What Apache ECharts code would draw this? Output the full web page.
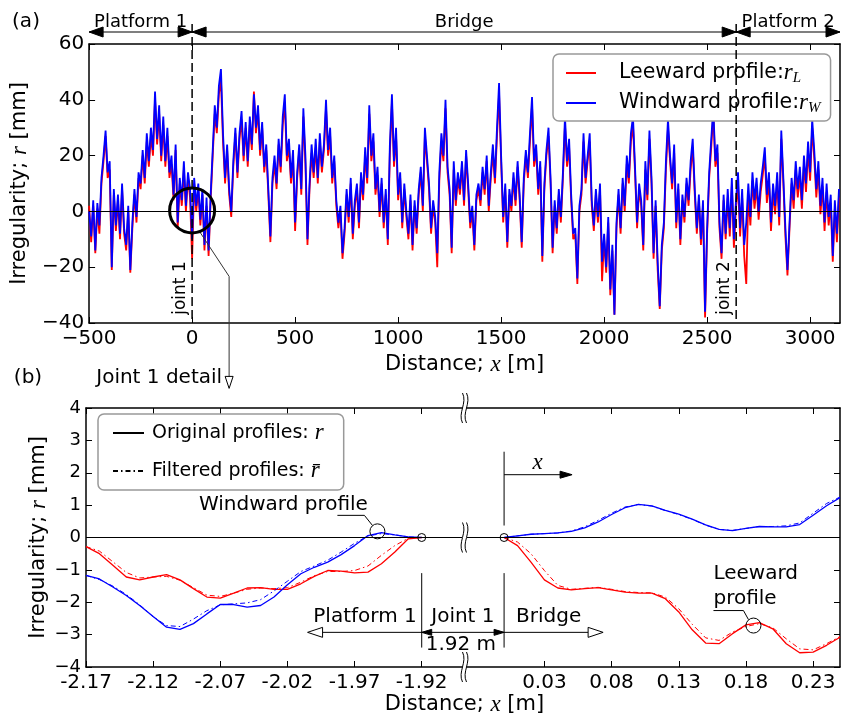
<!DOCTYPE html>
<html>
<head>
<meta charset="utf-8">
<script src="https://cdn.jsdelivr.net/npm/echarts@6/dist/echarts.min.js"></script>
<style>
html,body{margin:0;padding:0;background:#fff}
#main{width:844px;height:722px}
</style>
</head>
<body>
<div id="main"></div>
<script>
var FONT = 'DejaVu Sans';
var MATH = 'Liberation Serif';

// (a) whole line, one value every 10 m from -500 m
var profileStart = -500, profileStep = 10;
var leeward = [
 2,-11,2,-15,1,-8,10,18,27,12,
 15,-21,6,-7,4,-10,8,-8,-14,0,
 -22,-6,6,-4,12,8,20,10,25,16,
 27,20,40,24,35,18,31,16,27,12,
 17,4,22,-6,10,2,15,0,12,5,
 -17,10,0,8,-5,6,-14,2,-16,4,
 20,35,28,42,47,25,10,22,6,-2,
 16,28,12,26,33,18,30,16,31,22,
 43,28,36,20,30,14,22,6,-11,10,
 17,8,24,14,31,39,18,23,10,19,
 -7,12,22,6,34,17,-12,8,21,12,
 23,10,25,14,22,37,20,27,10,18,
 2,-6,0,-17,-8,6,-4,10,-10,2,
 8,-6,12,4,20,10,35,18,25,6,
 13,-2,10,-6,6,-12,21,39,16,27,
 4,12,-6,8,-2,-10,4,-14,2,-8,
 6,14,0,27,18,8,-8,2,-4,-20,
 11,25,18,37,14,6,-15,15,2,12,
 6,16,2,20,8,-6,0,-14,4,8,
 2,14,6,18,0,12,21,10,27,42,
 18,-4,8,-13,6,0,12,2,16,4,
 -13,10,20,12,25,38,16,22,6,16,
 -18,8,20,27,10,-15,2,-8,6,-4,
 12,31,16,23,4,-10,-8,-26,0,6,
 25,10,18,25,2,-7,6,-4,8,-25,
 -10,-22,-4,-30,-14,-37,-6,6,-8,10,
 0,17,10,25,31,14,-6,8,2,-14,
 15,4,26,10,-17,2,-21,-35,-14,-6,
 15,30,18,8,21,-6,8,-12,4,-4,
 10,2,15,23,6,-8,4,-12,2,-38,
 -8,12,23,35,16,21,-6,-17,4,-10,
 5,-9,9,-13,1,10,-9,5,-16,-26,
 6,-5,11,1,9,-3,7,13,20,3,
 11,-7,7,-1,11,-5,26,10,-9,-23,
 -6,10,1,15,5,13,1,17,7,22,
 11,30,19,5,15,-1,9,-7,7,-5,
 3,-18,1,-11,5
];
var windward = [
 0,-9,4,-14,3,-5,12,20,29,14,
 18,-20,8,-5,6,-8,10,-6,-12,2,
 -21,-4,8,-2,14,10,22,12,28,18,
 30,22,43,26,38,20,34,18,30,14,
 20,6,24,-4,12,4,18,2,14,8,
 -10,12,2,10,-3,8,-12,5,-14,6,
 22,38,30,45,51,28,12,24,8,0,
 18,30,14,28,36,20,32,18,34,24,
 42,30,38,22,32,16,24,8,-9,12,
 20,10,26,16,34,42,20,26,12,22,
 -4,14,24,8,37,20,-10,10,24,14,
 26,12,28,16,24,40,22,30,12,20,
 4,-4,2,-15,-6,8,-2,12,-8,4,
 10,-4,14,6,23,12,38,20,28,8,
 16,0,12,-4,8,-10,24,42,18,30,
 6,14,-4,10,0,-8,6,-12,4,-6,
 8,16,2,30,20,10,-6,4,-2,-15,
 14,28,20,40,16,8,-13,18,4,14,
 8,18,4,22,10,-4,2,-12,6,10,
 4,16,8,20,2,14,24,12,30,46,
 20,-2,10,-11,8,2,14,4,18,6,
 -11,12,22,14,28,41,18,24,8,18,
 -16,10,22,30,12,-13,4,-6,8,-2,
 14,34,18,26,6,-8,-6,-24,2,8,
 28,12,20,28,4,-5,8,-2,10,-18,
 -8,-20,-2,-28,-12,-37,-4,8,-6,12,
 2,20,12,28,34,16,-4,10,4,-12,
 18,6,29,12,-15,4,-18,-34,-12,-4,
 18,33,20,10,24,-4,10,-10,6,-2,
 12,4,18,26,8,-6,6,-10,4,-36,
 -6,14,26,37,18,24,-4,-15,6,-8,
 8,-6,12,-10,4,14,-6,8,-12,-4,
 10,-2,14,4,12,0,10,16,23,6,
 14,-4,10,2,14,-2,29,12,-6,-21,
 -4,12,4,18,8,16,4,20,10,25,
 14,33,22,8,18,2,12,-4,10,-2,
 6,-16,4,-8,8
];
var joint1 = 0, joint2 = 2641, profileEnd = 3145;
var distTicks = [-500, 0, 500, 1000, 1500, 2000, 2500, 3000];

// (b) joint 1 detail
var detailXLeft = [-2.17,-2.16,-2.15,-2.14,-2.13,-2.12,-2.11,-2.10,-2.09,-2.08,-2.07,-2.06,-2.05,
  -2.04,-2.03,-2.02,-2.01,-2.00,-1.99,-1.98,-1.97,-1.96,-1.95,-1.94,-1.93,-1.92];
var leewardLeft = [-0.28,-0.50,-0.86,-1.22,-1.31,-1.22,-1.15,-1.31,-1.58,-1.84,-1.87,-1.72,-1.56,
  -1.55,-1.60,-1.60,-1.43,-1.20,-1.02,-1.04,-1.09,-1.07,-0.81,-0.45,-0.04,0];
var leewardLeftFilt = [-0.28,-0.42,-0.75,-1.08,-1.25,-1.22,-1.20,-1.32,-1.55,-1.78,-1.82,-1.72,-1.60,
  -1.56,-1.58,-1.55,-1.38,-1.18,-1.05,-1.05,-1.02,-0.88,-0.55,-0.25,-0.02,0];
var windwardLeft = [-1.17,-1.28,-1.53,-1.79,-2.10,-2.44,-2.77,-2.84,-2.66,-2.36,-2.07,-2.07,-2.15,
  -2.10,-1.84,-1.46,-1.12,-0.92,-0.76,-0.53,-0.25,0.06,0.15,0.08,0.02,0];
var windwardLeftFilt = [-1.17,-1.30,-1.50,-1.76,-2.08,-2.45,-2.72,-2.75,-2.52,-2.26,-2.08,-2.05,-2.02,
  -1.92,-1.65,-1.35,-1.05,-0.88,-0.70,-0.45,-0.18,0.05,0.12,0.08,0.02,0];

var detailXRight = [0,0.01,0.02,0.03,0.04,0.05,0.06,0.07,0.08,0.09,0.10,0.11,0.12,
  0.13,0.14,0.15,0.16,0.17,0.18,0.19,0.20,0.21,0.22,0.23,0.24,0.25];
var leewardRight = [0,-0.25,-0.76,-1.31,-1.56,-1.62,-1.58,-1.55,-1.62,-1.69,-1.72,-1.72,-1.89,
  -2.30,-2.85,-3.26,-3.28,-2.97,-2.70,-2.63,-2.82,-3.28,-3.56,-3.54,-3.33,-3.08];
var leewardRightFilt = [0,-0.14,-0.50,-1.02,-1.48,-1.60,-1.57,-1.54,-1.60,-1.67,-1.70,-1.71,-1.84,
  -2.20,-2.68,-3.10,-3.18,-2.92,-2.75,-2.66,-2.79,-3.13,-3.44,-3.47,-3.28,-3.06];
var windwardRight = [0,0.05,0.10,0.12,0.14,0.19,0.30,0.48,0.71,0.92,1.02,0.98,0.84,
  0.72,0.57,0.39,0.25,0.21,0.28,0.34,0.33,0.33,0.40,0.69,0.98,1.23];
var windwardRightFilt = [0,0.05,0.10,0.12,0.14,0.20,0.33,0.53,0.75,0.94,1.02,0.97,0.83,
  0.71,0.56,0.38,0.25,0.22,0.28,0.34,0.34,0.36,0.45,0.75,1.05,1.25];
var detailTicksLeft = [-2.17,-2.12,-2.07,-2.02,-1.97,-1.92];
var detailTicksRight = [0.03,0.08,0.13,0.18,0.23];

function profilePairs(vals) {
  return vals.map(function (v, i) { return [profileStart + i * profileStep, v]; });
}
function pairs(xs, ys) {
  return ys.map(function (v, i) { return [xs[i], v]; });
}
function minus(v) { return String(v).replace('-', '\u2212'); }

var axisLine = {show: true, onZero: false, lineStyle: {color: '#000', width: 1.5}};
var tickStyle = {color: '#000', width: 1};
var mathRich = {i: {fontFamily: MATH, fontStyle: 'italic', fontSize: 23}};
var dashDot = [5, 3, 1.5, 3];

function xAx(grid, min, max, pos, ticks, fmt, name) {
  var a = {
    gridIndex: grid, type: 'value', min: min, max: max, position: pos,
    axisLine: axisLine,
    axisTick: {inside: true, length: 6, customValues: ticks, lineStyle: tickStyle},
    axisLabel: {show: pos === 'bottom', customValues: ticks, formatter: fmt, fontSize: 20, margin: 6, color: '#000', fontFamily: FONT},
    splitLine: {show: false}
  };
  if (name) {
    a.name = name; a.nameLocation = 'middle'; a.nameGap = 30;
    a.nameTextStyle = {fontSize: 21, fontFamily: FONT, color: '#000', rich: mathRich};
  }
  return a;
}
function yAx(grid, min, max, step, pos, labels, fs, nameGap) {
  var a = {
    gridIndex: grid, type: 'value', min: min, max: max, interval: step, position: pos,
    axisLine: axisLine,
    axisTick: {inside: true, length: 6, lineStyle: tickStyle},
    axisLabel: {show: labels, formatter: minus, fontSize: fs, margin: 5, color: '#000', fontFamily: FONT},
    splitLine: {show: false}
  };
  if (nameGap) {
    a.name = 'Irregularity; {i|r} [mm]'; a.nameLocation = 'middle'; a.nameGap = nameGap;
    a.nameTextStyle = {fontSize: 21, fontFamily: FONT, color: '#000', rich: mathRich};
  }
  return a;
}
function line(name, data, xi, yi, color, dash, width) {
  return {
    name: name, type: 'line', data: data, xAxisIndex: xi, yAxisIndex: yi,
    symbol: 'none', showSymbol: false, color: color,
    lineStyle: {color: color, width: width, type: dash || 'solid'}
  };
}
var zeroLine = {silent: true, symbol: 'none', label: {show: false},
  lineStyle: {color: '#000', width: 1, type: 'solid'}, data: [{yAxis: 0}]};

var legendRich = {
  g: {width: 18},
  h: {width: 3},
  t: {fontSize: 20.5, fontFamily: FONT, color: '#000'},
  u: {fontSize: 19, fontFamily: FONT, color: '#000'},
  m: {fontSize: 23, fontFamily: MATH, fontStyle: 'italic', color: '#000'},
  s: {fontSize: 15, fontFamily: MATH, fontStyle: 'italic', color: '#000', padding: [11, 0, 0, 0]}
};

var series = [
  line('Leeward profile', profilePairs(leeward), 0, 0, '#ff0000', null, 1.8),
  line('Windward profile', profilePairs(windward), 0, 0, '#0000ff', null, 1.8),
  line('Leeward L', pairs(detailXLeft, leewardLeft), 2, 2, '#ff0000', null, 1.3),
  line('Leeward L f', pairs(detailXLeft, leewardLeftFilt), 2, 2, '#ff0000', dashDot, 1),
  line('Windward L', pairs(detailXLeft, windwardLeft), 2, 2, '#0000ff', null, 1.3),
  line('Windward L f', pairs(detailXLeft, windwardLeftFilt), 2, 2, '#0000ff', dashDot, 1),
  line('Original profiles', [], 2, 2, '#000', null, 1.3),
  line('Filtered profiles', [], 2, 2, '#000', dashDot, 1.3),
  line('Leeward R', pairs(detailXRight, leewardRight), 4, 3, '#ff0000', null, 1.3),
  line('Leeward R f', pairs(detailXRight, leewardRightFilt), 4, 3, '#ff0000', dashDot, 1),
  line('Windward R', pairs(detailXRight, windwardRight), 4, 3, '#0000ff', null, 1.3),
  line('Windward R f', pairs(detailXRight, windwardRightFilt), 4, 3, '#0000ff', dashDot, 1)
];
series[1].markLine = zeroLine;
series[2].markLine = zeroLine;
series[8].markLine = zeroLine;

var option = {
  animation: false,
  backgroundColor: '#fff',
  textStyle: {fontFamily: FONT, color: '#000'},
  grid: [
    {left: 88, top: 44, width: 752, height: 279},
    {left: 86, top: 408, width: 376, height: 259},
    {left: 467, top: 408, width: 373, height: 259}
  ],
  xAxis: [
    xAx(0, -500, profileEnd, 'bottom', distTicks, minus, 'Distance; {i|x} [m]'),
    xAx(0, -500, profileEnd, 'top', distTicks, minus),
    xAx(1, -2.17, -1.89, 'bottom', detailTicksLeft, function (v) { return v.toFixed(2); }),
    xAx(1, -2.17, -1.89, 'top', detailTicksLeft),
    xAx(2, -0.0276, 0.25, 'bottom', detailTicksRight, function (v) { return v.toFixed(2); }),
    xAx(2, -0.0276, 0.25, 'top', detailTicksRight)
  ],
  yAxis: [
    yAx(0, -40, 60, 20, 'left', true, 20, 48),
    yAx(0, -40, 60, 20, 'right', false, 20),
    yAx(1, -4, 4, 1, 'left', true, 18, 36),
    yAx(2, -4, 4, 1, 'right', false, 18)
  ],
  legend: [{
    data: ['Leeward profile', 'Windward profile'],
    orient: 'vertical', left: 553, top: 54, selectedMode: false,
    itemWidth: 30, itemHeight: 12, itemGap: 5,
    padding: [7, 10, 5, 12],
    itemStyle: {opacity: 0},
    backgroundColor: '#fff', borderColor: '#999', borderWidth: 1.5, borderRadius: 6,
    formatter: function (name) {
      return name === 'Leeward profile'
        ? '{g|}{t|Leeward profile:}{m|r}{s|L}'
        : '{g|}{t|Windward profile:}{m|r}{s|W}';
    },
    textStyle: {fontSize: 20, lineHeight: 24, rich: legendRich}
  }, {
    data: ['Original profiles', 'Filtered profiles'],
    orient: 'vertical', left: 98, top: 414, selectedMode: false,
    itemWidth: 31, itemHeight: 12, itemGap: 14,
    padding: [7, 20, 7, 14],
    itemStyle: {opacity: 0},
    backgroundColor: '#fff', borderColor: '#999', borderWidth: 1.5, borderRadius: 6,
    formatter: function (name) {
      return name === 'Original profiles'
        ? '{h|}{u|Original profiles: }{m|r}'
        : '{h|}{u|Filtered profiles: }{m|r\u0304}';
    },
    textStyle: {fontSize: 19, lineHeight: 24, rich: legendRich}
  }],
  series: series
};

var chart = echarts.init(document.getElementById('main'), null, {renderer: 'canvas'});
chart.setOption(option);

// annotations, placed from the axes
function px(grid, x, y) { return chart.convertToPixel({gridIndex: grid}, [x, y]); }
function seg(x1, y1, x2, y2, st) {
  return {type: 'line', z: 100, shape: {x1: x1, y1: y1, x2: x2, y2: y2},
    style: Object.assign({stroke: '#000', lineWidth: 1}, st || {})};
}
function head(tx, ty, dir, len, half, hollow) {
  var p;
  if (dir === 'left') p = [[tx, ty], [tx + len, ty - half], [tx + len, ty + half]];
  else if (dir === 'right') p = [[tx, ty], [tx - len, ty - half], [tx - len, ty + half]];
  else p = [[tx, ty], [tx - half, ty - len], [tx + half, ty - len]];
  return {type: 'polygon', z: 101, shape: {points: p},
    style: {fill: hollow ? '#fff' : '#000', stroke: '#000', lineWidth: 1}};
}
function txt(x, y, s, size, align, extra) {
  return Object.assign({type: 'text', z: 102, x: x, y: y,
    style: {text: s, fontSize: size, fontFamily: FONT, fill: '#000', align: align || 'center', verticalAlign: 'middle', rich: mathRich}}, extra || {});
}
function ring(c, r, w) {
  return {type: 'circle', z: 101, shape: {cx: c[0], cy: c[1], r: r},
    style: {fill: 'none', stroke: '#000', lineWidth: w}};
}
function brk(x, y) {
  return {type: 'bezierCurve', z: 101,
    shape: {x1: x, y1: y - 15, cpx1: x + 5, cpy1: y - 5, cpx2: x - 5, cpy2: y + 5, x2: x, y2: y + 15},
    style: {stroke: '#000', lineWidth: 1, fill: 'none'}};
}

var g = [];
// panel (a)
var aTop = px(0, 0, 60)[1], aBot = px(0, 0, -40)[1];
var xs = px(0, -500, 0)[0], xj1 = px(0, joint1, 0)[0], xj2 = px(0, joint2, 0)[0], xe = px(0, profileEnd, 0)[0];
var yArr = aTop - 12;
g.push(seg(xj1, aTop - 20, xj1, aBot, {lineWidth: 1.5, lineDash: [9, 4]}));
g.push(seg(xj2, aTop - 20, xj2, aBot, {lineWidth: 1.5, lineDash: [9, 4]}));
[[xs, xj1, 'Platform 1'], [xj1, xj2, 'Bridge'], [xj2, xe, 'Platform 2']].forEach(function (s) {
  g.push(seg(s[0], yArr, s[1], yArr, {lineWidth: 1.2}));
  g.push(head(s[0], yArr, 'left', 14, 5));
  g.push(head(s[1], yArr, 'right', 14, 5));
  g.push(txt((s[0] + s[1]) / 2, yArr - 10, s[2], 18));
});
g.push(txt(26, 22, '(a)', 20));
g.push(txt(xj1 - 12, aBot - 35, 'joint 1', 17, 'center', {rotation: Math.PI / 2}));
g.push(txt(xj2 - 12, aBot - 35, 'joint 2', 17, 'center', {rotation: Math.PI / 2}));
var c0 = px(0, joint1, 0);
g.push(ring([c0[0], c0[1] - 1], 22.5, 3));
g.push(seg(c0[0] + 8, c0[1] + 21, c0[0] + 37, c0[1] + 65, {stroke: '#333'}));
g.push(seg(c0[0] + 37, c0[1] + 65, c0[0] + 37, c0[1] + 166, {stroke: '#333'}));
g.push(head(c0[0] + 37, c0[1] + 177, 'down', 12, 4, true));
g.push(txt(c0[0] + 30, 378, 'Joint 1 detail', 20, 'right'));
g.push(txt(28, 378, '(b)', 20));

// panel (b)
var bTop = px(1, -2.17, 4)[1], bBot = px(1, -2.17, -4)[1], bZero = px(1, -2.17, 0)[1];
var xb1 = px(1, -1.89, 0)[0], xb2 = px(2, -0.0276, 0)[0];
[bTop, bZero, bBot].forEach(function (y) {
  g.push(brk(xb1 + 0.5, y));
  g.push(brk(xb2 - 0.5, y));
});
var pL = px(1, -1.92, 0), pR = px(2, 0, 0);
g.push(ring(pL, 4, 1));
g.push(ring(pR, 4, 1));
var cw = px(1, -1.953, 0.19);
g.push(ring(cw, 7.5, 1));
g.push(seg(cw[0] - 40, cw[1] - 16, cw[0] - 13, cw[1] - 16));
g.push(seg(cw[0] - 13, cw[1] - 16, cw[0] - 5, cw[1] - 6));
g.push(txt(cw[0] - 94, cw[1] - 27, 'Windward profile', 20));
var cl = px(2, 0.1856, -2.72);
g.push(ring(cl, 7.5, 1));
g.push(seg(cl[0] - 40, cl[1] - 15, cl[0] - 10, cl[1] - 15));
g.push(seg(cl[0] - 10, cl[1] - 15, cl[0] - 5, cl[1] - 6));
g.push(txt(cl[0] - 40, cl[1] - 52, 'Leeward', 20, 'left'));
g.push(txt(cl[0] - 40, cl[1] - 27, 'profile', 20, 'left'));

var yTxt = px(1, -2, -2.44)[1], yRow = px(1, -2, -2.93)[1], yLen = px(1, -2, -3.3)[1];
var vTop = px(1, -2, -1.1)[1], vBot = px(1, -2, -3.4)[1];
g.push(seg(pL[0], vTop, pL[0], vBot));
g.push(seg(pR[0], vTop, pR[0], vBot));
g.push(seg(pR[0], px(2, 0, 2.65)[1], pR[0], px(2, 0, 0.37)[1]));
var yX = px(2, 0, 1.94)[1], xX = px(2, 0.0506, 0)[0];
g.push(seg(pR[0], yX, xX - 10, yX));
g.push(head(xX, yX, 'right', 12, 3.5));
g.push(txt(px(2, 0.025, 0)[0], px(2, 0, 2.3)[1], '{i|x}', 22));

var xP = px(1, -2.005, 0)[0], xBr = px(2, 0.0737, 0)[0];
g.push(seg(pL[0], yRow, xP + 15, yRow));
g.push(head(xP, yRow, 'left', 15, 5, true));
g.push(seg(pR[0], yRow, xBr - 15, yRow));
g.push(head(xBr, yRow, 'right', 15, 5, true));
g.push(seg(pL[0], yRow, pR[0], yRow));
g.push(head(pL[0], yRow, 'left', 10, 3));
g.push(head(pR[0], yRow, 'right', 10, 3));
g.push(txt(pL[0] - 5, yTxt, 'Platform 1', 20, 'right'));
g.push(txt((pL[0] + pR[0]) / 2, yTxt, 'Joint 1', 20));
g.push(txt((pL[0] + pR[0]) / 2 - 2, yLen, '1.92 m', 20));
g.push(txt(pR[0] + 12, yTxt, 'Bridge', 20, 'left'));
g.push(txt((xb1 + xb2) / 2, 705, 'Distance; {i|x} [m]', 21));

chart.setOption({graphic: g});
</script>
</body>
</html>
